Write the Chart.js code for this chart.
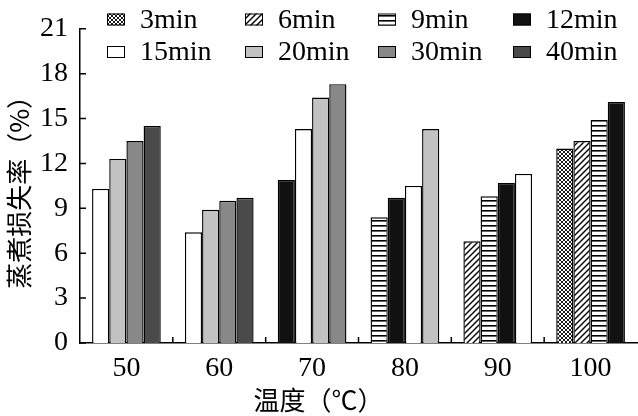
<!DOCTYPE html>
<html>
<head>
<meta charset="utf-8">
<style>
  html, body { margin: 0; padding: 0; background: #fff; }
  #wrap { width: 638px; height: 416px; }
</style>
<script src="https://cdn.jsdelivr.net/npm/chart.js@4.4.1/dist/chart.umd.min.js"></script>
</head>
<body>
<div id="wrap"><canvas id="chart" width="638" height="416"></canvas></div>
<script>
const temps = ["50", "60", "70", "80", "90", "100"];
const seriesNames = ["3min", "6min", "9min", "12min", "15min", "20min", "30min", "40min"];

// 蒸煮损失率 (%) per temperature, null = not measured
const loss3min = [null, null, null, null, null, 13.0];
const loss6min = [null, null, null, null, 6.8, 13.5];
const loss9min = [null, null, null, 8.4, 9.8, 14.9];
const loss12min = [null, null, 10.9, 9.7, 10.7, 16.1];
const loss15min = [10.3, 7.4, 14.3, 10.5, 11.3, null];
const loss20min = [12.3, 8.9, 16.4, 14.3, null, null];
const loss30min = [13.5, 9.5, 17.3, null, null, null];
const loss40min = [14.5, 9.7, null, null, null, null];

const yTicks = [0, 3, 6, 9, 12, 15, 18, 21];

const serif = "'Liberation Serif', 'DejaVu Serif', serif";
const cjk = "'Noto Sans CJK SC', 'Noto Sans', sans-serif";

function makePattern(kind) {
  const c = document.createElement("canvas");
  const size = kind === "hlines" ? 5 : kind === "diag" ? 6 : 4;
  c.width = size;
  c.height = size;
  const g = c.getContext("2d");
  g.fillStyle = "#fff";
  g.fillRect(0, 0, size, size);
  g.strokeStyle = "#000";
  if (kind === "hlines") {
    g.fillStyle = "#000";
    g.fillRect(0, 0, size, 1.6);
  } else if (kind === "diag") {
    g.lineWidth = 1.4;
    g.beginPath();
    g.moveTo(-1, size + 1);
    g.lineTo(size + 1, -1);
    g.moveTo(-1, 1);
    g.lineTo(1, -1);
    g.moveTo(size - 1, size + 1);
    g.lineTo(size + 1, size - 1);
    g.stroke();
  } else {
    g.lineWidth = 0.9;
    g.beginPath();
    g.moveTo(0, 0);
    g.lineTo(size, size);
    g.moveTo(0, size);
    g.lineTo(size, 0);
    g.stroke();
  }
  return g.createPattern(c, "repeat");
}

const fills = [
  makePattern("cross"),
  makePattern("diag"),
  makePattern("hlines"),
  "#111111",
  "#ffffff",
  "#c2c2c2",
  "#888888",
  "#4a4a4a",
];

const seriesData = [loss3min, loss6min, loss9min, loss12min, loss15min, loss20min, loss30min, loss40min];

const inwardTicks = {
  id: "inwardTicks",
  afterDraw(chart) {
    const { ctx, chartArea } = chart;
    const { x, y } = chart.scales;
    ctx.save();
    ctx.strokeStyle = "#000";
    ctx.lineWidth = 1.5;
    ctx.beginPath();
    y.ticks.forEach((t, i) => {
      const py = y.getPixelForTick(i);
      ctx.moveTo(chartArea.left, py);
      ctx.lineTo(chartArea.left + 6, py);
    });
    for (let i = 1; i < temps.length; i++) {
      const px = (x.getPixelForTick(i - 1) + x.getPixelForTick(i)) / 2;
      ctx.moveTo(px, chartArea.bottom);
      ctx.lineTo(px, chartArea.bottom - 6);
    }
    ctx.stroke();
    ctx.restore();
  },
};

const gridLegend = {
  id: "gridLegend",
  afterDraw(chart) {
    const { ctx } = chart;
    const cols = [107, 245, 378, 513];
    const rows = [19.5, 52];
    ctx.save();
    ctx.font = "28px " + serif;
    ctx.textBaseline = "middle";
    ctx.textAlign = "left";
    chart.data.datasets.forEach((ds, i) => {
      const bx = cols[i % 4];
      const cy = rows[Math.floor(i / 4)];
      ctx.fillStyle = ds.backgroundColor;
      ctx.fillRect(bx, cy - 6, 18, 12);
      ctx.strokeStyle = "#000";
      ctx.lineWidth = 1;
      ctx.strokeRect(bx + 0.5, cy - 5.5, 17, 11);
      ctx.fillStyle = "#000";
      ctx.fillText(ds.label, bx + 33, cy + 1);
    });
    ctx.restore();
  },
};

new Chart(document.getElementById("chart"), {
  type: "bar",
  data: {
    labels: temps,
    datasets: seriesNames.map((name, i) => ({
      label: name,
      data: seriesData[i],
      backgroundColor: fills[i],
      borderColor: "#000",
      borderWidth: 1.4,
    })),
  },
  options: {
    responsive: false,
    animation: false,
    layout: { padding: { top: 22, right: 1, left: 0, bottom: 0 } },
    datasets: {
      bar: { skipNull: true, categoryPercentage: 0.74, barPercentage: 1.0 },
    },
    plugins: {
      legend: { display: false },
      tooltip: { enabled: false },
      title: {
        display: true,
        position: "bottom",
        text: "温度（℃）",
        color: "#000",
        font: { family: cjk, size: 26, weight: "normal" },
        padding: { top: 8, bottom: 0 },
      },
    },
    scales: {
      x: {
        grid: { display: false, drawTicks: false },
        border: { display: true, color: "#000", width: 1.5 },
        ticks: { color: "#000", font: { family: serif, size: 28 }, padding: 9, maxRotation: 0 },
        afterFit(scale) {
          scale.height = 33.8;
        },
      },
      y: {
        min: 0,
        max: 21,
        afterBuildTicks(scale) {
          scale.ticks = yTicks.map((v) => ({ value: v }));
        },
        grid: { display: false, drawTicks: false },
        border: { display: true, color: "#000", width: 1.5 },
        ticks: { color: "#000", font: { family: serif, size: 28 }, padding: 12 },
        title: {
          display: true,
          text: "蒸煮损失率（%）",
          color: "#000",
          font: { family: cjk, size: 26, weight: "normal" },
          padding: { top: 4, bottom: 0 },
        },
        afterFit(scale) {
          scale.width = 80;
        },
      },
    },
  },
  plugins: [inwardTicks, gridLegend],
});
</script>
</body>
</html>
